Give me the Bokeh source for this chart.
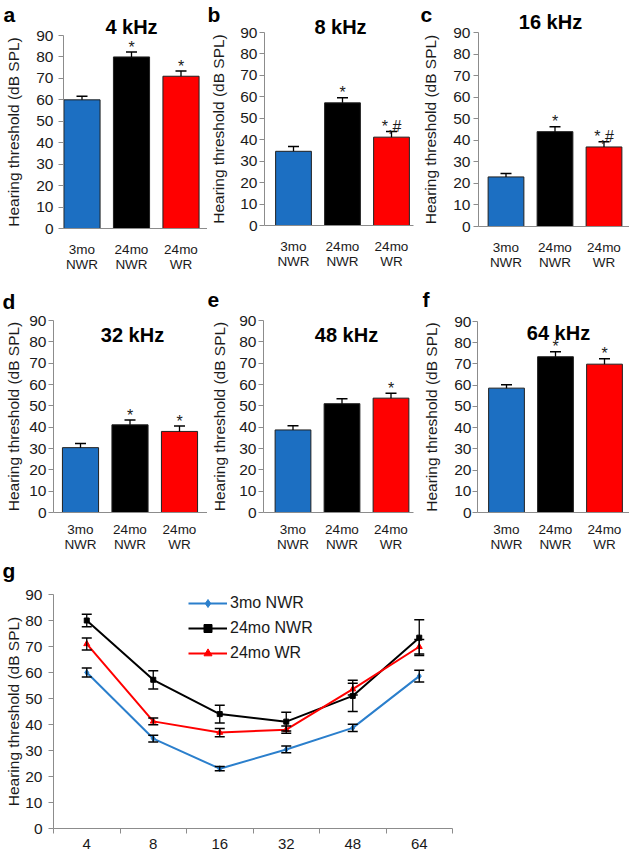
from bokeh.plotting import figure
from bokeh.models import Range1d, FixedTicker, Label, Legend, LegendItem, LinearAxis
from bokeh.layouts import column, row
from bokeh.embed import file_html
from bokeh.resources import INLINE
from bokeh.core.properties import value

# ---------------- data ----------------
groups = ["3mo NWR", "24mo NWR", "24mo WR"]
freqs = ["4", "8", "16", "32", "48", "64"]
panel_letters = ["a", "b", "c", "d", "e", "f"]
panel_titles = ["4 kHz", "8 kHz", "16 kHz", "32 kHz", "48 kHz", "64 kHz"]

mean_3mo_nwr = [60.0, 34.6, 23.0, 30.4, 38.7, 58.6]
mean_24mo_nwr = [80.0, 57.2, 44.0, 41.1, 51.0, 73.4]
mean_24mo_wr = [71.0, 41.2, 36.9, 38.0, 53.6, 69.9]

# error bars of the bar panels (upper only)
err_bar_3mo_nwr = [1.7, 2.2, 1.6, 2.0, 2.0, 1.6]
err_bar_24mo_nwr = [2.3, 2.4, 2.3, 2.3, 2.3, 2.3]
err_bar_24mo_wr = [2.4, 2.6, 2.4, 2.5, 2.3, 2.5]

# error bars of the line panel (both directions)
err_line_3mo_nwr = [1.7, 1.3, 0.8, 1.3, 1.4, 2.3]
err_line_24mo_nwr = [2.4, 3.5, 3.4, 3.6, 6.0, 6.9]
err_line_24mo_wr = [2.3, 1.3, 1.6, 1.4, 2.3, 2.8]

# significance marks above bars
sig_3mo_nwr = ["", "", "", "", "", ""]
sig_24mo_nwr = ["*", "*", "*", "*", "", "*"]
sig_24mo_wr = ["*", "*,#", "*,#", "*", "*", "*"]

y_ticks = [0, 10, 20, 30, 40, 50, 60, 70, 80, 90]

# ---------------- style ----------------
FONT = "Liberation Sans"
BLUE = "#1c6fc2"
BLUE_LINE = "#2b7fcc"
BLACK = "#000000"
RED = "#ff0000"
AXIS = "#8c8c8c"
TXT = "#1a1a1a"
YLABEL = "Hearing threshold (dB SPL)"


class Frame:
    """Maps pixel positions inside a figure to data coordinates."""

    def __init__(self, w, h, L, R, T, B, xa, pa, xb, pb):
        self.w, self.h, self.L, self.R, self.T, self.B = w, h, L, R, T, B
        self.sx = (xb - xa) / (pb - pa)
        self.xa, self.pa = xa, pa
        self.sy = 90.0 / (B - T)

    def X(self, px):
        return self.xa + (px - self.pa) * self.sx

    def Y(self, py):
        return (self.B - py) * self.sy


def make_fig(fr):
    p = figure(width=fr.w, height=fr.h, title=None,
               x_range=Range1d(fr.X(0), fr.X(fr.w)),
               y_range=Range1d(fr.Y(fr.h), fr.Y(0)),
               x_axis_location=None, y_axis_location=None,
               output_backend="svg", toolbar_location=None,
               min_border=0, min_border_left=0, min_border_right=0,
               min_border_top=0, min_border_bottom=0)
    p.outline_line_color = None
    p.grid.grid_line_color = None
    p.background_fill_color = "white"
    p.border_fill_color = "white"
    return p


def add_y_axis(p, fr, tick_standoff, label_standoff):
    ax = LinearAxis(fixed_location=fr.X(fr.L), bounds=(0, 90),
                    ticker=FixedTicker(ticks=y_ticks))
    ax.axis_line_color = AXIS
    ax.major_tick_line_color = AXIS
    ax.major_tick_out = 5
    ax.major_tick_in = 0
    ax.minor_tick_line_color = None
    ax.major_label_text_font = FONT
    ax.major_label_text_font_size = "15.5px"
    ax.major_label_text_color = TXT
    ax.major_label_standoff = tick_standoff
    ax.axis_label = YLABEL
    ax.axis_label_text_font = FONT
    ax.axis_label_text_font_size = "15.5px"
    ax.axis_label_text_font_style = "normal"
    ax.axis_label_text_color = TXT
    ax.axis_label_standoff = label_standoff
    p.add_layout(ax, "left")


def text_label(p, fr, px, py, text, size, align):
    p.add_layout(Label(x=fr.X(px), y=fr.Y(py), text=text, text_align=align,
                       text_baseline="alphabetic", text_font=FONT,
                       text_font_size=size, text_font_style="bold",
                       text_color=BLACK))


# bar panels geometry (pixels inside each figure)
# (w, h, L, R, T, B, first bar centre, bar spacing, y tick standoff, y label standoff,
#  title x, title baseline, letter x, letter baseline, x label standoffs)
geo = [
    (207, 270, 63, 207, 35, 228, 81.5, 49.5, 5, 11, 131, 26, 3, 14, (13, 28)),
    (208, 270, 57, 206, 32, 225, 86.0, 49.0, 2, 10, 133, 26, 0, 14, (13, 28)),
    (214, 270, 63, 214, 32, 226, 90.5, 49.0, 3, 11, 135, 21, 5, 14, (13, 28)),
    (207, 290, 53, 207, 50, 242, 80.0, 49.5, 2, 4, 132, 64, 2, 31, (9, 24)),
    (208, 290, 56, 206, 50, 242, 85.5, 49.0, 2, 8, 139, 64, 0, 29, (9, 24)),
    (214, 290, 62, 214, 51, 242, 91.0, 49.0, 1, 11, 143, 62, 7, 29, (9, 24)),
]

bar_colors = [BLUE, BLACK, RED]
xs = [1, 2, 3]
line1 = [g.split(" ")[0] for g in groups]
line2 = [g.split(" ")[1] for g in groups]
panels = []
for i in range(6):
    (w, h, L, R, T, B, c1, d, yts, yls, tx, tb, lx, lb, xst) = geo[i]
    fr = Frame(w, h, L, R, T, B, 1.0, c1, 2.0, c1 + d)
    p = make_fig(fr)
    means = [mean_3mo_nwr[i], mean_24mo_nwr[i], mean_24mo_wr[i]]
    errs = [err_bar_3mo_nwr[i], err_bar_24mo_nwr[i], err_bar_24mo_wr[i]]
    sigs = [sig_3mo_nwr[i], sig_24mo_nwr[i], sig_24mo_wr[i]]
    tops = [m + e for m, e in zip(means, errs)]
    p.vbar(x=xs, top=means, bottom=0, width=0.73, fill_color=bar_colors,
           line_color="#202020", line_width=1)
    p.segment(x0=xs, y0=means, x1=xs, y1=tops, line_color=BLACK, line_width=1.3)
    p.scatter(x=xs, y=tops, marker="dash", size=11, line_color=BLACK, line_width=1.5)
    # category axis: two stacked label rows
    for k, (labels, st) in enumerate(zip((line1, line2), xst)):
        ax = LinearAxis(fixed_location=0, bounds=(fr.X(L), fr.X(R)),
                        ticker=FixedTicker(ticks=xs))
        ax.major_label_overrides = {x: t for x, t in zip(xs, labels)}
        ax.axis_line_color = AXIS if k == 0 else None
        ax.major_tick_line_color = None
        ax.minor_tick_line_color = None
        ax.major_tick_out = 0
        ax.major_tick_in = 0
        ax.major_label_standoff = st
        ax.major_label_text_font = FONT
        ax.major_label_text_font_size = "13.5px"
        ax.major_label_text_color = TXT
        p.add_layout(ax, "below")
    add_y_axis(p, fr, yts, yls)
    text_label(p, fr, tx, tb, panel_titles[i], "20px", "center")
    text_label(p, fr, lx, lb, panel_letters[i], "21px", "left")
    p.text(x=xs, y=[t + 2.3 for t in tops], text=sigs, text_align="center",
           text_baseline="alphabetic", text_font=value(FONT),
           text_font_size="16px", text_color=TXT, level="overlay")
    panels.append(p)

# ---------------- panel g ----------------
gfr = Frame(629, 293, 53, 452, 34, 268, 0.5, 53, 6.5, 452)
g = make_fig(gfr)
gx = [1, 2, 3, 4, 5, 6]
series = [
    ("3mo NWR", mean_3mo_nwr, err_line_3mo_nwr, BLUE_LINE, "diamond", 6),
    ("24mo NWR", mean_24mo_nwr, err_line_24mo_nwr, BLACK, "square", 5),
    ("24mo WR", mean_24mo_wr, err_line_24mo_wr, RED, "triangle", 6),
]
items = []
for name, m, e, c, mk, sz in series:
    lr = g.line(gx, m, line_color=c, line_width=2)
    sr = g.scatter(gx, m, marker=mk, size=sz, fill_color=c, line_color=c)
    items.append(LegendItem(label=name, renderers=[lr, sr]))
for name, m, e, c, mk, sz in series:
    lo = [a - b for a, b in zip(m, e)]
    hi = [a + b for a, b in zip(m, e)]
    g.segment(x0=gx, y0=lo, x1=gx, y1=hi, line_color=BLACK, line_width=1.3)
    g.scatter(gx, hi, marker="dash", size=10, line_color=BLACK, line_width=1.5)
    g.scatter(gx, lo, marker="dash", size=10, line_color=BLACK, line_width=1.5)

gax = LinearAxis(fixed_location=0, bounds=(0.5, 6.5),
                 ticker=FixedTicker(ticks=gx, minor_ticks=[0.5, 1.5, 2.5, 3.5, 4.5, 5.5, 6.5]))
gax.major_label_overrides = {x: f for x, f in zip(gx, freqs)}
gax.axis_line_color = AXIS
gax.major_tick_line_color = None
gax.minor_tick_line_color = AXIS
gax.minor_tick_out = 5
gax.minor_tick_in = 0
gax.major_tick_out = 5
gax.major_tick_in = 0
gax.major_label_standoff = 5
gax.major_label_text_font = FONT
gax.major_label_text_font_size = "15px"
gax.major_label_text_color = TXT
g.add_layout(gax, "below")
add_y_axis(g, gfr, 6, 0)

legend_h = 3 * 20 + 2 * 5
legend = Legend(items=items, location=(188, 293 - 33 - legend_h), orientation="vertical",
                glyph_width=39, glyph_height=20, label_height=20, spacing=5,
                padding=0, margin=0, label_standoff=3, border_line_color=None,
                background_fill_alpha=0, label_text_font=FONT,
                label_text_font_size="16px", label_text_color=TXT)
g.add_layout(legend)
text_label(g, gfr, 2, 10, "g", "21px", "left")

layout = column(row(panels[0], panels[1], panels[2]),
                row(panels[3], panels[4], panels[5]),
                g)

open("out.html", "w").write(file_html(layout, INLINE))
